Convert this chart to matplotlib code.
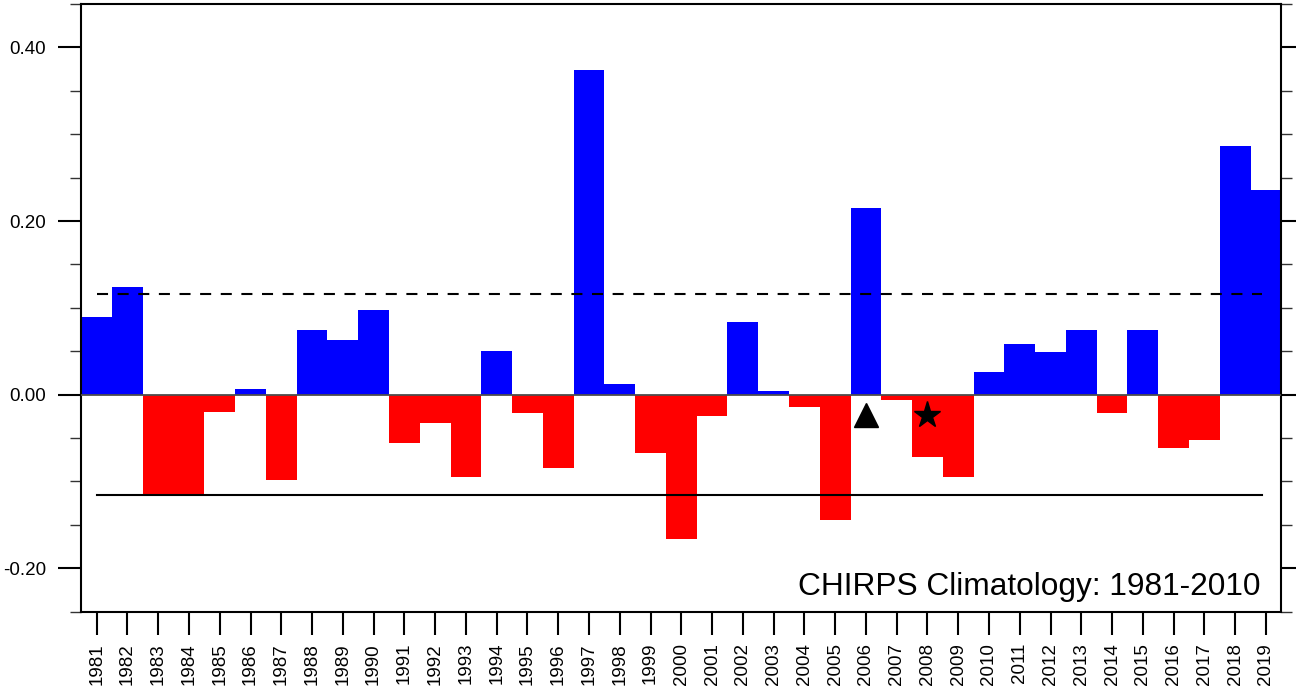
import numpy as np
import matplotlib.pyplot as plt
from matplotlib.ticker import MultipleLocator, FormatStrFormatter

plt.rcParams['font.family'] = ['Liberation Sans', 'DejaVu Sans']

years = list(range(1981, 2020))
anom = [0.090, 0.124, -0.115, -0.115, -0.020, 0.007, -0.098, 0.075, 0.063, 0.098,
        -0.056, -0.033, -0.095, 0.050, -0.021, -0.085, 0.374, 0.012, -0.067, -0.166,
        -0.025, 0.084, 0.004, -0.014, -0.144, 0.215, -0.006, -0.072, -0.095, 0.026,
        0.058, 0.049, 0.074, -0.021, 0.074, -0.061, -0.052, 0.287, 0.236]

upper = 0.116
lower = -0.116
line_x = [1981, 2018.88]

tri_year, tri_val = 2006, -0.023
star_year, star_val = 2008, -0.023

note = "CHIRPS Climatology: 1981-2010"

colors = ['#0000ff' if v >= 0 else '#ff0000' for v in anom]

fig = plt.figure(figsize=(12.96, 6.89), dpi=100)
ax = fig.add_axes([81.3/1296, 1 - 611.7/689, 1200/1296, 607.7/689])

ax.bar(years, anom, width=1.0, color=colors, linewidth=0, zorder=2)
ax.axhline(0, color='0.3', lw=1.3, zorder=3)
ax.plot(line_x, [upper, upper], color='black', lw=1.5, dashes=(5.3, 4.6), zorder=4)
ax.plot(line_x, [lower, lower], color='black', lw=1.5, zorder=4)

ax.plot(tri_year, tri_val, marker='^', color='black', markersize=17, zorder=5)
ax.plot(star_year, star_val, marker='*', color='black', markersize=20, zorder=5)

ax.text(0.9825, 0.027, note, transform=ax.transAxes, ha='right', va='baseline',
        fontsize=22.8)

ax.set_xlim(1980.5, 2019.5)
ax.set_ylim(-0.25, 0.45)

ax.set_xticks(years)
ax.set_xticklabels([str(y) for y in years], rotation=90, fontsize=13.5)
ax.yaxis.set_major_locator(MultipleLocator(0.2))
ax.yaxis.set_minor_locator(MultipleLocator(0.05))
ax.yaxis.set_major_formatter(FormatStrFormatter('%.2f'))

ax.tick_params(axis='x', which='major', direction='out', length=16.5, width=1.5, pad=6)
ax.tick_params(axis='y', which='major', direction='out', length=16.5, width=1.5,
               pad=9, labelsize=13.5, right=True)
ax.tick_params(axis='y', which='minor', direction='out', length=8, width=1.0,
               right=True, color='0.2')

for side in ['left', 'bottom', 'right', 'top']:
    ax.spines[side].set_linewidth(1.5)

fig.savefig('out.png', dpi=100)
